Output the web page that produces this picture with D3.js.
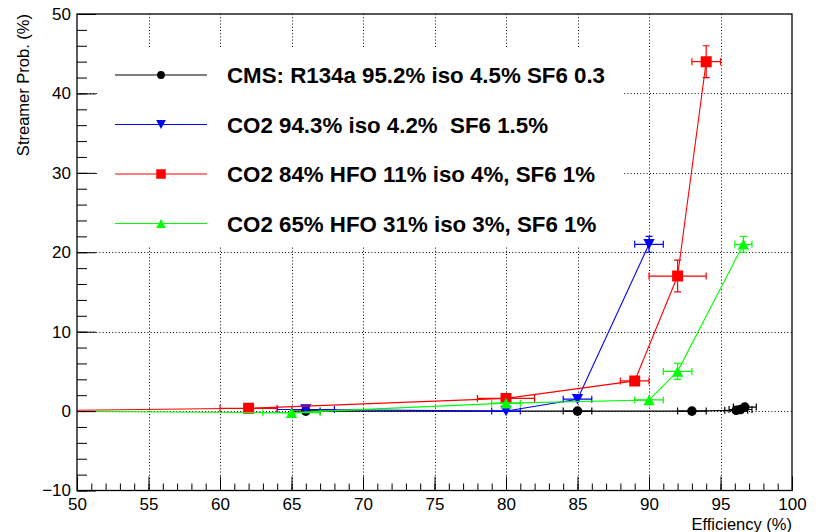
<!DOCTYPE html>
<html>
<head>
<meta charset="utf-8">
<script src="https://cdn.jsdelivr.net/npm/d3@7"></script>
<style>
  body { margin: 0; background: #fff; }
  svg { display: block; font-family: "Liberation Sans", Arial, Helvetica, sans-serif; }
</style>
</head>
<body>
<svg id="chart" width="816" height="532"></svg>
<script>
// ---- data: streamer probability vs. efficiency for four gas mixtures ----
const seriesNames = [
  "CMS: R134a 95.2% iso 4.5% SF6 0.3",
  "CO2 94.3% iso 4.2%  SF6 1.5%",
  "CO2 84% HFO 11% iso 4%, SF6 1%",
  "CO2 65% HFO 31% iso 3%, SF6 1%"
];
const seriesColors = ["#000000", "#0000ff", "#ff0000", "#00ff00"];
const seriesMarkers = ["circle", "triangleDown", "square", "triangleUp"];

const cmsEff        = [66, 85, 93, 96.1, 96.4, 96.7];
const cmsStreamer   = [0, 0, 0, 0.1, 0.2, 0.5];
const cmsEffErr     = [1, 1, 1, 0.8, 0.8, 0.8];
const cmsStreamErr  = [0, 0, 0, 0, 0, 0];

const co2aEff       = [66, 80, 85, 90];
const co2aStreamer  = [0.2, 0, 1.5, 21];
const co2aEffErr    = [2, 1, 1, 1];
const co2aStreamErr = [0, 0, 0, 1];

const hfoAEff       = [45, 62, 80, 89, 92, 94];
const hfoAStreamer  = [0, 0.35, 1.6, 3.8, 17, 44];
const hfoAEffErr    = [0, 2, 2, 1, 2, 1];
const hfoAStreamErr = [0, 0, 0, 0, 2, 2];

const hfoBEff       = [45, 65, 80, 90, 92, 96.6];
const hfoBStreamer  = [0, -0.2, 1.0, 1.4, 5, 21];
const hfoBEffErr    = [0, 2, 1, 1, 1, 0.6];
const hfoBStreamErr = [0, 0, 0, 0, 1, 1];

const xTickValues = [50, 55, 60, 65, 70, 75, 80, 85, 90, 95, 100];
const yTickValues = [-10, 0, 10, 20, 30, 40, 50];
const xTitle = "Efficiency (%)";
const yTitle = "Streamer Prob. (%)";

// ---- layout ----
const plot = { left: 77, right: 792, top: 14, bottom: 490.5 };
const svg = d3.select("#chart");

const x = d3.scaleLinear().domain([50, 100]).range([plot.left, plot.right]);
const y = d3.scaleLinear().domain([-10, 50]).range([plot.bottom, plot.top]);

const series = [
  [cmsEff, cmsStreamer, cmsEffErr, cmsStreamErr],
  [co2aEff, co2aStreamer, co2aEffErr, co2aStreamErr],
  [hfoAEff, hfoAStreamer, hfoAEffErr, hfoAStreamErr],
  [hfoBEff, hfoBStreamer, hfoBEffErr, hfoBStreamErr]
].map(([xs, ys, exs, eys], i) => ({
  name: seriesNames[i],
  color: seriesColors[i],
  marker: seriesMarkers[i],
  points: xs.map((v, j) => ({ x: v, y: ys[j], ex: exs[j], ey: eys[j] }))
}));

// marker outlines, centred on their bounding box
function markerPath(kind, s) {
  const h = s / 2;
  switch (kind) {
    case "square": return `M${-h},${-h}H${h}V${h}H${-h}Z`;
    case "triangleUp": return `M0,${-h}L${h * 1.08},${h}L${-h * 1.08},${h}Z`;
    case "triangleDown": return `M0,${h}L${h * 1.08},${-h}L${-h * 1.08},${-h}Z`;
    default: {
      const r = h;
      return `M${r},0A${r},${r} 0 1,1 ${-r},0A${r},${r} 0 1,1 ${r},0Z`;
    }
  }
}
const markerSize = { circle: 9.6, square: 11, triangleUp: 10.5, triangleDown: 10.5 };
const legendMarkerSize = { circle: 7.8, square: 9.5, triangleUp: 9, triangleDown: 9 };

// ---- grid ----
const grid = svg.append("g").attr("stroke", "#000").attr("stroke-width", 1)
  .attr("stroke-dasharray", "1,2.2");
grid.selectAll("line.gx").data(xTickValues.slice(1, -1)).join("line")
  .attr("x1", d => Math.round(x(d)) + 0.5).attr("x2", d => Math.round(x(d)) + 0.5)
  .attr("y1", plot.top).attr("y2", plot.bottom);
grid.selectAll("line.gy").data(yTickValues.slice(1, -1)).join("line")
  .attr("y1", d => Math.round(y(d)) + 0.5).attr("y2", d => Math.round(y(d)) + 0.5)
  .attr("x1", plot.left).attr("x2", plot.right);

// ---- data ----
svg.append("clipPath").attr("id", "plotClip").append("rect")
  .attr("x", plot.left).attr("y", plot.top)
  .attr("width", plot.right - plot.left).attr("height", plot.bottom - plot.top);
const dataLayer = svg.append("g").attr("clip-path", "url(#plotClip)");
const line = d3.line().x(d => x(d.x)).y(d => y(d.y));
const cap = 3.5;

series.forEach(s => {
  const g = dataLayer.append("g");
  g.append("path").datum(s.points).attr("d", line)
    .attr("fill", "none").attr("stroke", s.color).attr("stroke-width", 1.1);

  const eb = g.append("g").attr("stroke", s.color).attr("stroke-width", 1.2).attr("fill", "none");
  s.points.forEach(p => {
    const cx = x(p.x), cy = y(p.y);
    if (p.ex > 0) {
      const x0 = x(p.x - p.ex), x1 = x(p.x + p.ex);
      eb.append("path").attr("d",
        `M${x0},${cy}H${x1}M${x0},${cy - cap}V${cy + cap}M${x1},${cy - cap}V${cy + cap}`);
    }
    if (p.ey > 0) {
      const y0 = y(p.y - p.ey), y1 = y(p.y + p.ey);
      eb.append("path").attr("d",
        `M${cx},${y0}V${y1}M${cx - cap},${y0}H${cx + cap}M${cx - cap},${y1}H${cx + cap}`);
    }
  });

  g.selectAll("path.mk").data(s.points).join("path")
    .attr("class", "mk")
    .attr("transform", d => `translate(${x(d.x)},${y(d.y)})`)
    .attr("d", markerPath(s.marker, markerSize[s.marker]))
    .attr("fill", s.color);
});

// ---- axes ----
const yAxisMinor = d3.axisLeft(y).tickValues(d3.range(-10, 50.01, 2)).tickSize(-10).tickFormat("");
const yAxis = d3.axisLeft(y).tickValues(yTickValues).tickSize(-19).tickPadding(6).tickFormat(d3.format("d"));
const xAxisMinor = d3.axisBottom(x).tickValues(d3.range(50, 100.01, 1)).tickSize(-7).tickFormat("");
const xAxis = d3.axisBottom(x).tickValues(xTickValues).tickSize(-14).tickPadding(7).tickFormat(d3.format("d"));

function styleAxis(g) {
  g.select(".domain").remove();
  g.selectAll(".tick line").attr("stroke", "#000").attr("stroke-width", 1);
  g.selectAll("text").attr("fill", "#000").attr("font-size", 17)
    .attr("font-family", "\"Liberation Sans\", Arial, Helvetica, sans-serif");
}
svg.append("g").attr("transform", `translate(${plot.left},0)`).call(yAxisMinor).call(styleAxis);
svg.append("g").attr("transform", `translate(${plot.left},0)`).call(yAxis).call(styleAxis);
svg.append("g").attr("transform", `translate(0,${plot.bottom})`).call(xAxisMinor).call(styleAxis);
svg.append("g").attr("transform", `translate(0,${plot.bottom})`).call(xAxis).call(styleAxis);

// frame
svg.append("rect")
  .attr("x", plot.left).attr("y", plot.top)
  .attr("width", plot.right - plot.left).attr("height", plot.bottom - plot.top)
  .attr("fill", "none").attr("stroke", "#000").attr("stroke-width", 1.3);

// titles
svg.append("text")
  .attr("x", plot.right).attr("y", 530)
  .attr("text-anchor", "end").attr("font-size", 16.5).attr("fill", "#000")
  .text(xTitle);
svg.append("text")
  .attr("transform", `translate(29,${plot.top}) rotate(-90)`)
  .attr("text-anchor", "end").attr("font-size", 16.5).attr("fill", "#000")
  .text(yTitle);

// ---- legend ----
const legend = svg.append("g");
legend.append("rect")
  .attr("x", 97).attr("y", 47).attr("width", 525).attr("height", 200)
  .attr("fill", "#fff");
const legendRows = [75, 124.5, 174, 223.5];
series.forEach((s, i) => {
  const row = legend.append("g").attr("transform", `translate(0,${legendRows[i]})`);
  row.append("line").attr("x1", 115).attr("x2", 207).attr("y1", 0).attr("y2", 0)
    .attr("stroke", s.color).attr("stroke-width", 1.2);
  row.append("path").attr("transform", "translate(161,0)")
    .attr("d", markerPath(s.marker, legendMarkerSize[s.marker]))
    .attr("fill", s.color);
  row.append("text")
    .attr("x", 227).attr("y", 8)
    .attr("font-size", 22.3).attr("font-weight", "bold").attr("fill", "#000")
    .style("white-space", "pre")
    .text(s.name);
});
</script>
</body>
</html>
